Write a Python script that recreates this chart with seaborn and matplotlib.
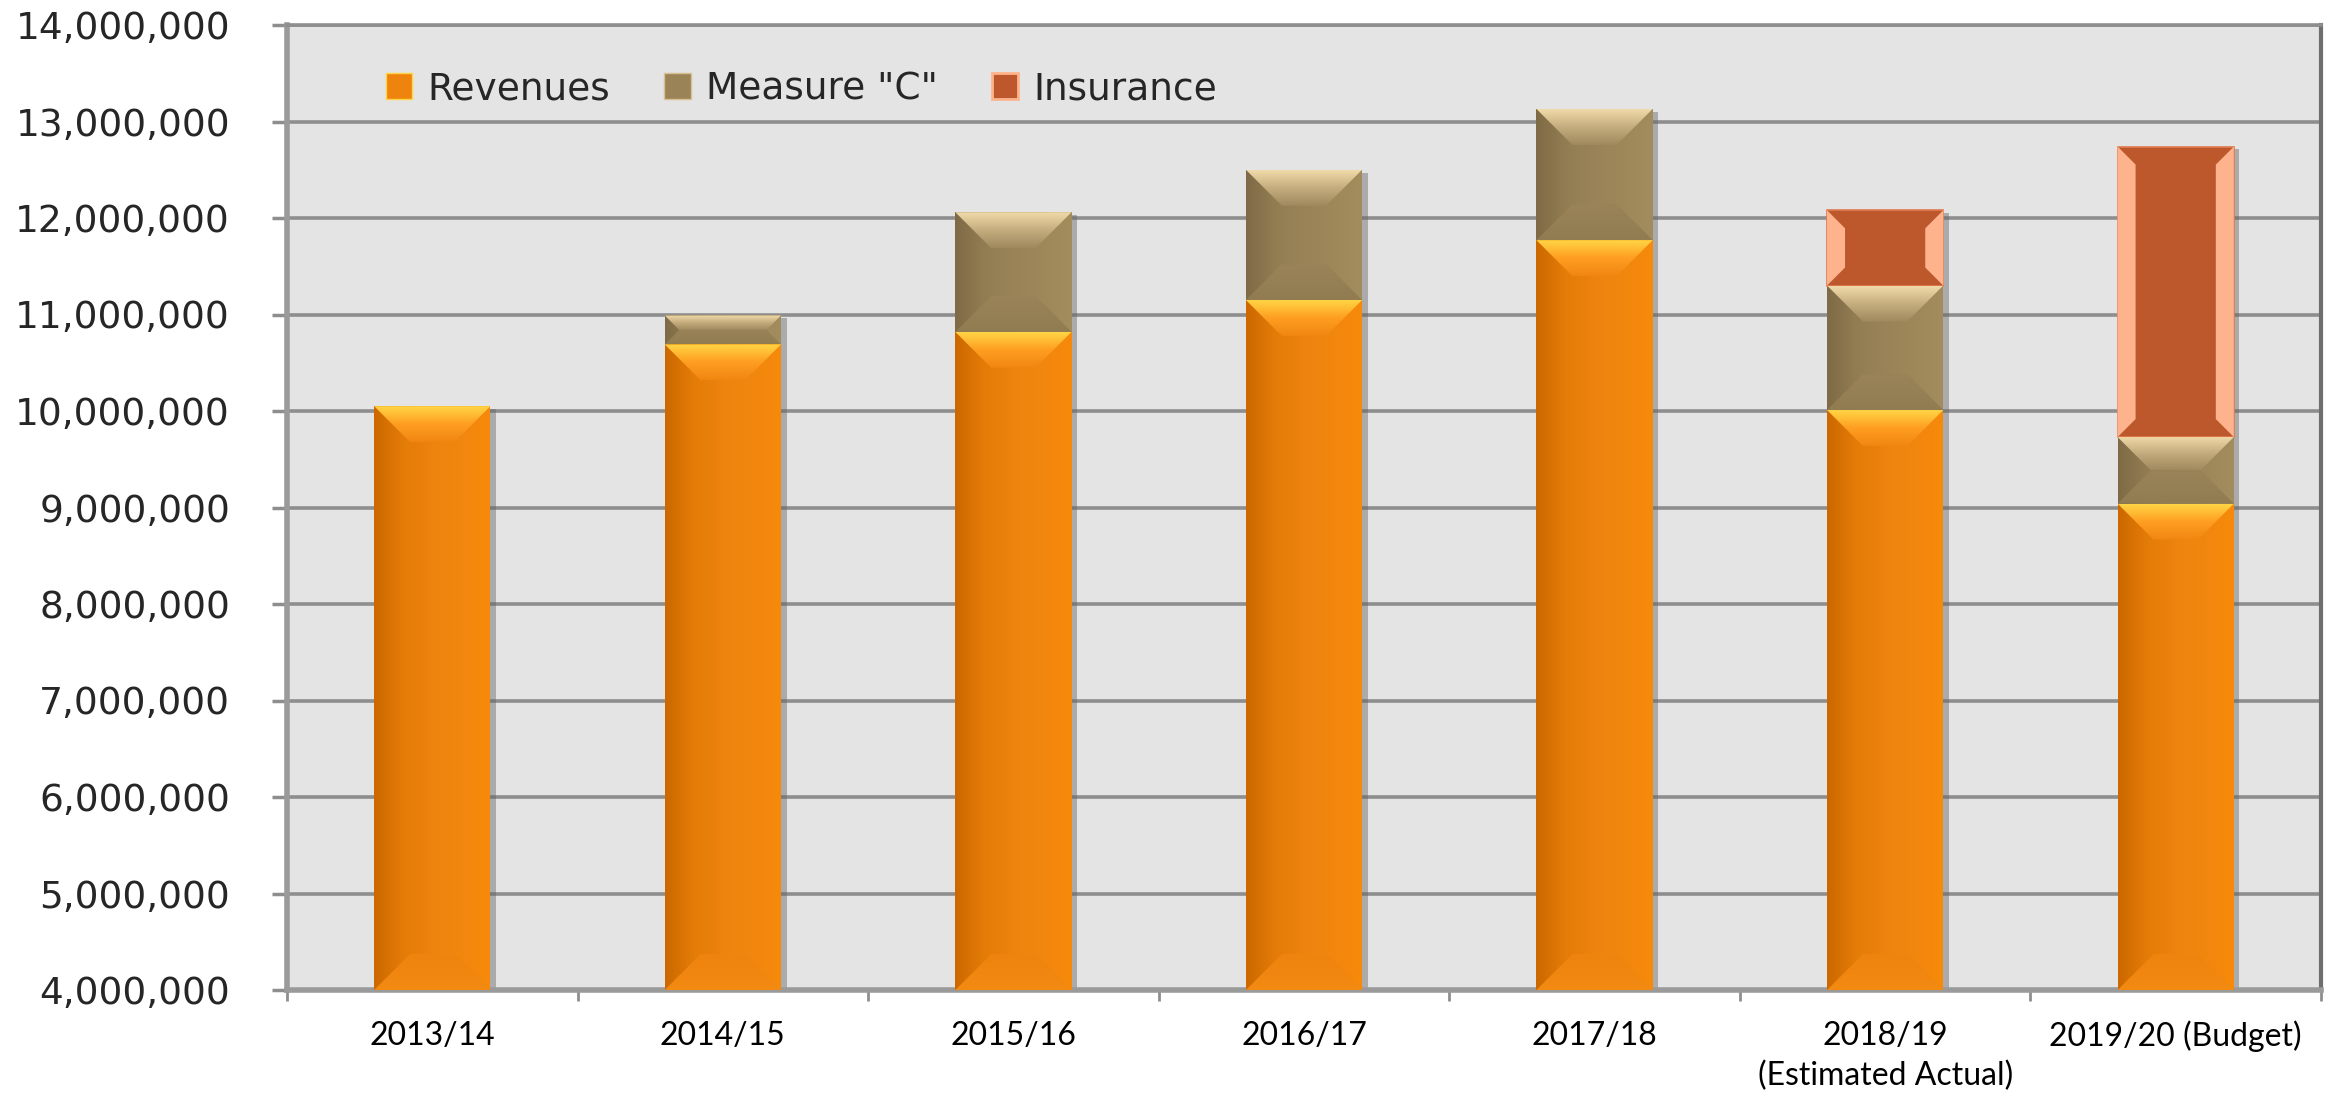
import numpy as np
import pandas as pd
import matplotlib.pyplot as plt
import seaborn as sns
from matplotlib.patches import Polygon, Patch
from matplotlib.colors import LinearSegmentedColormap
from matplotlib.ticker import FuncFormatter
import matplotlib.patheffects as pe

# values
years = ['2013/14', '2014/15', '2015/16', '2016/17', '2017/18',
         '2018/19\n(Estimated Actual)', '2019/20 (Budget)']
revenues = [10050000, 10690000, 10820000, 11150000, 11770000, 10010000, 9040000]
measure_c = [0, 300000, 1240000, 1350000, 1360000, 1290000, 690000]
insurance = [0, 0, 0, 0, 0, 780000, 3010000]
series_names = ['Revenues', 'Measure "C"', 'Insurance']
y_ticks = list(range(4000000, 14000001, 1000000))

Y_MIN, Y_MAX = 4000000, 14000000
W, H = 2338, 1104
AX_L, AX_R, AX_T, AX_B = 287, 2321, 25, 990

# one pixel in data units
PX_X = len(years) / (AX_R - AX_L)
PX_Y = (Y_MAX - Y_MIN) / (AX_B - AX_T)


def shade(ax, x0, x1, y0, y1, colors, vertical, clip_xy, z):
    cmap = LinearSegmentedColormap.from_list('g', colors)
    grad = np.linspace(0, 1, 256)
    arr = grad.reshape(-1, 1) if vertical else grad.reshape(1, -1)
    im = ax.imshow(arr, cmap=cmap, extent=(x0, x1, y0, y1), origin='lower',
                   aspect='auto', interpolation='bicubic', zorder=z)
    im.set_clip_path(Polygon(clip_xy, closed=True, transform=ax.transData))


def bevel_segment(ax, x0, x1, y0, y1, face, top, bottom):
    y0 = max(y0, Y_MIN)
    if y1 <= y0:
        return
    seg_px = (y1 - y0) / PX_Y
    b = min(36, seg_px / 2)
    bx, by = b * PX_X, b * PX_Y
    rect = [(x0, y0), (x1, y0), (x1, y1), (x0, y1)]
    shade(ax, x0, x1, y0, y1, face, False, rect, 3)
    top_xy = [(x0, y1), (x1, y1), (x1 - bx, y1 - by), (x0 + bx, y1 - by)]
    shade(ax, x0, x1, y1 - by, y1, top, True, top_xy, 4)
    bot_xy = [(x0, y0), (x1, y0), (x1 - bx, y0 + by), (x0 + bx, y0 + by)]
    shade(ax, x0, x1, y0, y0 + by, bottom, True, bot_xy, 4)


def insurance_segment(ax, x0, x1, y0, y1):
    b = 18
    bx, by = b * PX_X, b * PX_Y
    ax.add_patch(Polygon([(x0, y0), (x1, y0), (x1, y1), (x0, y1)],
                         facecolor='#BD582C', edgecolor='#E07A50', lw=1.2, zorder=3))
    ax.add_patch(Polygon([(x0, y1), (x0 + bx, y1 - by), (x0 + bx, y0 + by), (x0, y0)],
                         facecolor='#FFB38C', lw=0, zorder=4))
    ax.add_patch(Polygon([(x1, y1), (x1 - bx, y1 - by), (x1 - bx, y0 + by), (x1, y0)],
                         facecolor='#FFB38C', lw=0, zorder=4))


def plot_budget():
    sns.set_theme(style='white')
    df = pd.DataFrame({'year': years, 'rev': revenues,
                       'meas': measure_c, 'ins': insurance})
    df['rev_meas'] = df['rev'] + df['meas']
    df['total'] = df['rev_meas'] + df['ins']

    fig = plt.figure(figsize=(W / 100, H / 100), dpi=100)
    ax = fig.add_axes([AX_L / W, 1 - AX_B / H, (AX_R - AX_L) / W, (AX_B - AX_T) / H])
    ax.set_facecolor('#E4E4E4')

    # stacked bars drawn as overlapping cumulative layers
    sns.barplot(x='year', y='total', data=df, color='#BD582C', width=0.4,
                saturation=1, errorbar=None, linewidth=0, ax=ax)
    sns.barplot(x='year', y='rev_meas', data=df, color='#9A8357', width=0.4,
                saturation=1, errorbar=None, linewidth=0, ax=ax)
    sns.barplot(x='year', y='rev', data=df, color='#EE830E', width=0.4,
                saturation=1, errorbar=None, linewidth=0, ax=ax)

    for p in ax.containers[0]:
        p.set_path_effects([pe.SimplePatchShadow(offset=(4, -2), shadow_rgbFace='#666666',
                                                 alpha=0.45), pe.Normal()])

    rev_face = ['#CC6800', '#E47C08', '#EE830E', '#F2870F', '#F78A0A']
    rev_top = ['#F08610', '#FF9E22', '#FFD545']
    rev_bot = ['#F38A12', '#EE830E']
    mc_face = ['#7E6A45', '#927D53', '#9A8357', '#9E885A', '#A38C5D']
    mc_top = ['#A08A5D', '#C4AC7E', '#F2DBAA']
    mc_bot = ['#917C52', '#9A8357']

    for i, p in enumerate(ax.containers[2]):
        x0 = p.get_x()
        x1 = x0 + p.get_width()
        bevel_segment(ax, x0, x1, 0, revenues[i], rev_face, rev_top, rev_bot)
        if measure_c[i] > 0:
            bevel_segment(ax, x0, x1, revenues[i], revenues[i] + measure_c[i],
                          mc_face, mc_top, mc_bot)
        if insurance[i] > 0:
            base = revenues[i] + measure_c[i]
            insurance_segment(ax, x0, x1, base, base + insurance[i])

    # axes
    ax.set_xlim(-0.5, len(years) - 0.5)
    ax.set_ylim(Y_MIN, Y_MAX)
    ax.set_yticks(y_ticks)
    ax.yaxis.set_major_formatter(FuncFormatter(lambda v, p: f'{int(v):,}'))
    ax.set_axisbelow(True)
    ax.yaxis.grid(True, color='#8E8E8E', lw=2.6)
    ax.xaxis.grid(False)
    ax.set_xlabel('')
    ax.set_ylabel('')

    ax.set_xticks(range(len(years)))
    ax.set_xticklabels(years, fontfamily='Lato', fontsize=23, linespacing=1.4)
    ax.set_xticks(np.arange(-0.5, len(years)), minor=True)
    ax.tick_params(axis='x', which='major', length=0, pad=22, colors='black')
    ax.tick_params(axis='x', which='minor', length=8, width=2, color='#8E8E8E', bottom=True)
    ax.tick_params(axis='y', length=11, width=2.5, color='#8E8E8E', pad=30,
                   labelsize=27, left=True)
    for t in ax.get_yticklabels():
        t.set_fontfamily('DejaVu Sans')

    for side in ['left', 'bottom']:
        ax.spines[side].set_color('#9A9A9A')
        ax.spines[side].set_linewidth(4)
    ax.spines['right'].set_color('#6E6E6E')
    ax.spines['right'].set_linewidth(3)
    ax.spines['top'].set_color('#8E8E8E')
    ax.spines['top'].set_linewidth(2.6)

    handles = [Patch(facecolor='#EE830E', edgecolor='#FFD545', lw=1),
               Patch(facecolor='#9A8357', edgecolor='#D8C090', lw=1),
               Patch(facecolor='#BD582C', edgecolor='#FFB38C', lw=2)]
    ax.legend(handles, series_names, loc='center left',
              bbox_to_anchor=((386 - AX_L) / (AX_R - AX_L), 1 - (89 - AX_T) / (AX_B - AX_T)),
              ncol=3, frameon=False, prop=dict(family='DejaVu Sans', size=27),
              handlelength=0.7, handleheight=0.72, handletextpad=0.4,
              columnspacing=1.45, borderpad=0, borderaxespad=0)

    fig.savefig('out.png', dpi=100, facecolor='white')
    plt.close(fig)


if __name__ == '__main__':
    plot_budget()
